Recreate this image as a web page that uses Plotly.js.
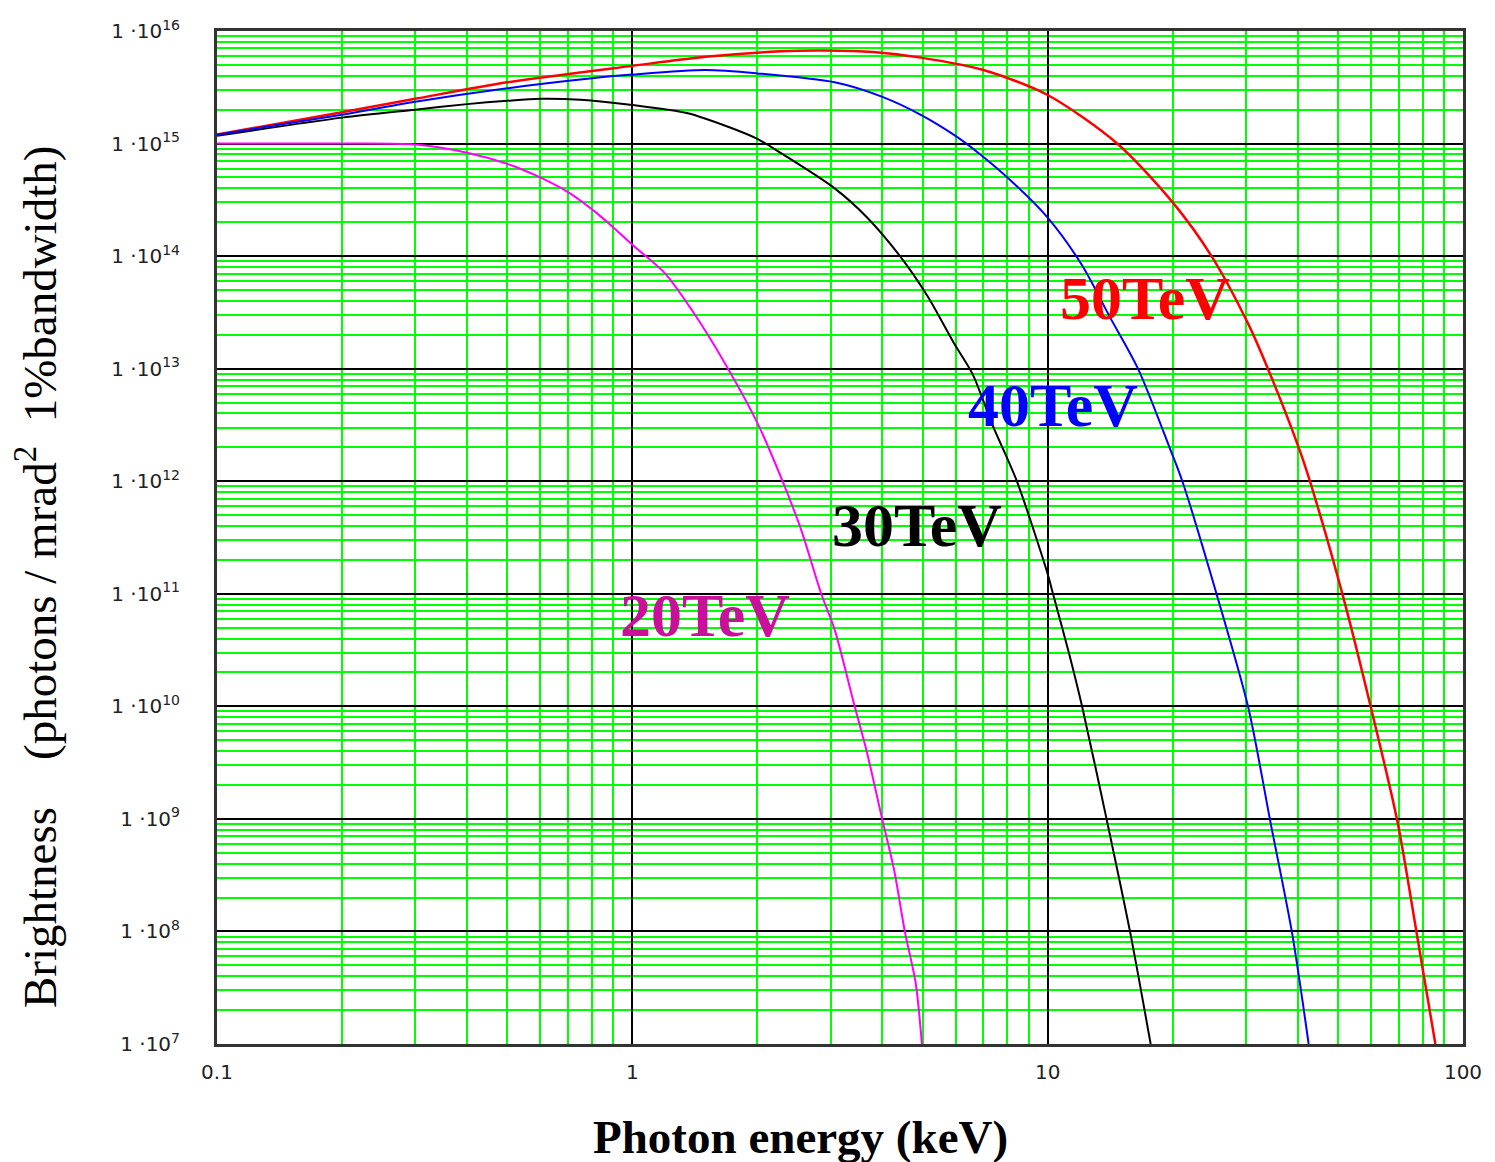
<!DOCTYPE html>
<html>
<head>
<meta charset="utf-8">
<script src="https://cdn.plot.ly/plotly-3.0.1.min.js"></script>
<style>
html, body { margin: 0; padding: 0; background: #ffffff; }
#chart { width: 1495px; height: 1162px; }
</style>
</head>
<body>
<div id="chart"></div>
<script>
// Photon energy (keV) and brightness values
const x20 = [0.1, 0.2, 0.3, 0.4, 0.5, 0.6, 0.7, 0.8, 0.9, 1.0, 1.2, 1.4, 1.7, 2.0, 2.3, 2.55, 2.85, 3.07, 3.43, 3.66, 4.0, 4.27, 4.53, 4.81, 4.98];
const y20 = [1.0e15, 1.0e15, 9.8e14, 8.3e14, 6.6e14, 5.0e14, 3.7e14, 2.6e14, 1.8e14, 1.26e14, 7.0e13, 3.2e13, 1.0e13, 3.3e12, 1.0e12, 3.7e11, 1.0e11, 4.8e10, 1.0e10, 4.1e9, 9.8e8, 3.5e8, 1.0e8, 3.5e7, 1.0e7];

const x30 = [0.1, 0.2, 0.3, 0.4, 0.5, 0.6, 0.75, 1.0, 1.36, 1.7, 2.0, 2.27, 3.07, 3.66, 4.41, 5.14, 5.94, 6.6, 7.38, 8.43, 10.0, 10.3, 11.3, 12.1, 13.9, 15.8, 17.7];
const y30 = [1.17e15, 1.7e15, 2.0e15, 2.24e15, 2.4e15, 2.5e15, 2.45e15, 2.2e15, 1.86e15, 1.41e15, 1.1e15, 8.3e14, 4.0e14, 2.24e14, 1.0e14, 4.4e13, 1.7e13, 8.9e12, 3.1e12, 1.0e12, 1.5e11, 1.0e11, 2.8e10, 1.0e10, 9.5e8, 9.8e7, 1.0e7];

const x40 = [0.1, 0.2, 0.3, 0.5, 0.8, 1.0, 1.5, 2.0, 3.07, 4.0, 4.95, 6.0, 6.8, 8.0, 10.0, 12.1, 14.1, 16.5, 19.7, 21.1, 25.6, 30.4, 34.4, 38.8, 42.5];
const y40 = [1.2e15, 1.8e15, 2.35e15, 3.1e15, 3.8e15, 4.1e15, 4.5e15, 4.2e15, 3.5e15, 2.6e15, 1.8e15, 1.17e15, 8.3e14, 5.0e14, 2.2e14, 8.3e13, 2.9e13, 1.0e13, 1.95e12, 1.0e12, 9.5e10, 9.8e9, 9.3e8, 9.5e7, 1.0e7];

const x50 = [0.1, 0.2, 0.3, 0.5, 1.0, 1.5, 2.27, 2.9, 3.8, 4.95, 7.0, 10.0, 14.7, 20.0, 24.8, 30.4, 33.9, 40.3, 42.8, 51.5, 60.0, 69.6, 77.4, 85.8];
const y50 = [1.2e15, 1.9e15, 2.5e15, 3.5e15, 4.9e15, 5.9e15, 6.6e15, 6.7e15, 6.5e15, 5.8e15, 4.5e15, 2.7e15, 1.0e15, 3.0e14, 1.0e14, 2.5e13, 1.0e13, 1.95e12, 1.0e12, 9.3e10, 9.8e9, 9.3e8, 9.5e7, 1.0e7];

const xTickVals = [0.1, 1, 10, 100];
const xTickText = ['0.1', '1', '10', '100'];
const yExponents = [7, 8, 9, 10, 11, 12, 13, 14, 15, 16];
const yTickVals = yExponents.map(e => Math.pow(10, e));
const yTickText = yExponents.map(e => '1 \u00B710<sup>' + e + '</sup>');

const seriesLabels = ['20TeV', '30TeV', '40TeV', '50TeV'];

const lineShape = {shape: 'spline', smoothing: 0.8};
const traces = [
  {x: x20, y: y20, name: seriesLabels[0], mode: 'lines', line: Object.assign({color: '#ff00ff', width: 2}, lineShape)},
  {x: x30, y: y30, name: seriesLabels[1], mode: 'lines', line: Object.assign({color: '#000000', width: 2}, lineShape)},
  {x: x50, y: y50, name: seriesLabels[3], mode: 'lines', line: Object.assign({color: '#ff0000', width: 2.5}, lineShape)},
  {x: x40, y: y40, name: seriesLabels[2], mode: 'lines', line: Object.assign({color: '#0000ff', width: 2}, lineShape)}
];

const serif = 'Liberation Serif, Times New Roman, serif';
const tickFont = {family: 'DejaVu Sans, Verdana, sans-serif', size: 20, color: '#222222'};

const layout = {
  width: 1495,
  height: 1162,
  margin: {l: 217, r: 32, t: 31, b: 118, pad: 0},
  paper_bgcolor: '#ffffff',
  plot_bgcolor: '#ffffff',
  showlegend: false,
  hovermode: false,
  xaxis: {
    type: 'log',
    range: [-1, 2],
    tickvals: xTickVals,
    ticktext: xTickText,
    tickfont: tickFont,
    ticks: 'outside',
    ticklen: 8,
    tickcolor: 'rgba(0,0,0,0)',
    showgrid: true,
    gridcolor: '#000000',
    gridwidth: 2,
    minor: {dtick: 'D1', showgrid: true, gridcolor: '#00ff00', gridwidth: 2, ticks: ''},
    showline: true,
    linecolor: '#333333',
    linewidth: 3,
    mirror: true,
    zeroline: false
  },
  yaxis: {
    type: 'log',
    range: [7, 16],
    tickvals: yTickVals,
    ticktext: yTickText,
    tickfont: tickFont,
    ticks: 'outside',
    ticklen: 30,
    tickcolor: 'rgba(0,0,0,0)',
    showgrid: true,
    gridcolor: '#000000',
    gridwidth: 2,
    minor: {dtick: 'D1', showgrid: true, gridcolor: '#00ff00', gridwidth: 2, ticks: ''},
    showline: true,
    linecolor: '#333333',
    linewidth: 3,
    mirror: true,
    zeroline: false
  },
  annotations: [
    {text: '<b>Photon energy (keV)</b>', xref: 'paper', yref: 'paper', x: (800 - 217) / 1246, y: (1044 - 1137) / 1013,
     xanchor: 'center', yanchor: 'middle', showarrow: false, font: {family: serif, size: 47, color: '#000000'}},
    {text: 'Brightness\u00A0\u00A0\u00A0\u00A0(photons / mrad<sup>2</sup>\u00A0\u00A01%bandwidth)', xref: 'paper', yref: 'paper',
     x: (36 - 217) / 1246, y: (1044 - 577) / 1013, textangle: -90,
     xanchor: 'center', yanchor: 'middle', showarrow: false, font: {family: serif, size: 47, color: '#000000'}},
    {text: '<b>' + seriesLabels[3] + '</b>', xref: 'paper', yref: 'paper', x: (1145 - 217) / 1246, y: (1044 - 298) / 1013,
     xanchor: 'center', yanchor: 'middle', showarrow: false, font: {family: serif, size: 62, color: '#ff0000'}},
    {text: '<b>' + seriesLabels[2] + '</b>', xref: 'paper', yref: 'paper', x: (1053 - 217) / 1246, y: (1044 - 405) / 1013,
     xanchor: 'center', yanchor: 'middle', showarrow: false, font: {family: serif, size: 62, color: '#0000ff'}},
    {text: '<b>' + seriesLabels[1] + '</b>', xref: 'paper', yref: 'paper', x: (917 - 217) / 1246, y: (1044 - 525) / 1013,
     xanchor: 'center', yanchor: 'middle', showarrow: false, font: {family: serif, size: 62, color: '#000000'}},
    {text: '<b>' + seriesLabels[0] + '</b>', xref: 'paper', yref: 'paper', x: (705 - 217) / 1246, y: (1044 - 615) / 1013,
     xanchor: 'center', yanchor: 'middle', showarrow: false, font: {family: serif, size: 62, color: '#c8109a'}}
  ]
};

Plotly.newPlot('chart', traces, layout, {displayModeBar: false, staticPlot: true});
</script>
</body>
</html>
